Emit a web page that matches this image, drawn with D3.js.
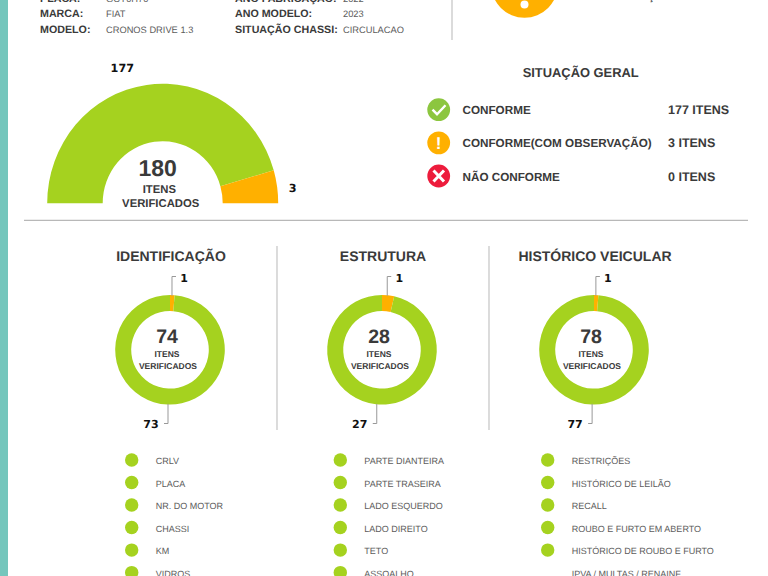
<!DOCTYPE html>
<html>
<head>
<meta charset="utf-8">
<script src="https://cdn.jsdelivr.net/npm/d3@7.9.0/dist/d3.min.js"></script>
<style>
  html, body { margin: 0; padding: 0; background: #fff; overflow: hidden; }
  text { font-family: "Liberation Sans", Arial, sans-serif; text-rendering: geometricPrecision; }
</style>
</head>
<body>
<svg id="chart" width="768" height="576" style="display:block"></svg>
<script>
const GREEN = '#a5d21f';
const ORANGE = '#ffb000';
const DARK = '#3a3a3a';
const GREY = '#5c5c5c';

// vehicle header, the first row is cut off by the top of the picture
const infoLeftLabels = ['PLACA:', 'MARCA:', 'MODELO:'];
const infoLeftValues = ['GCY0H70', 'FIAT', 'CRONOS DRIVE 1.3'];
const infoRightLabels = ['ANO FABRICAÇÃO:', 'ANO MODELO:', 'SITUAÇÃO CHASSI:'];
const infoRightValues = ['2022', '2023', 'CIRCULACAO'];

// main gauge: counts, and the slice sizes as they look in the picture (degrees)
const gaugeValues = [177, 3];
const gaugeSlices = [164, 16];
const gaugeTotal = 180;

// summary
const summaryLabels = ['CONFORME', 'CONFORME(COM OBSERVAÇÃO)', 'NÃO CONFORME'];
const summaryValues = ['177 ITENS', '3 ITENS', '0 ITENS'];
const summaryColors = ['#8cc63f', '#ffb000', '#ed1c3c'];
const summaryGlyphs = ['check', '!', 'x'];

// the three small donuts
const donutTitles = ['IDENTIFICAÇÃO', 'ESTRUTURA', 'HISTÓRICO VEICULAR'];
const donutObs = [1, 1, 1];
const donutOk = [73, 27, 77];
const donutTotals = [74, 28, 78];

// checklist under each donut
const listIdent = ['CRLV', 'PLACA', 'NR. DO MOTOR', 'CHASSI', 'KM', 'VIDROS'];
const listEstrutura = ['PARTE DIANTEIRA', 'PARTE TRASEIRA', 'LADO ESQUERDO', 'LADO DIREITO', 'TETO', 'ASSOALHO'];
const listHistorico = ['RESTRIÇÕES', 'HISTÓRICO DE LEILÃO', 'RECALL', 'ROUBO E FURTO EM ABERTO', 'HISTÓRICO DE ROUBO E FURTO', 'IPVA / MULTAS / RENAINF'];

const svg = d3.select('#chart');

function label(x, y, str, size, weight, color, anchor) {
  return svg.append('text')
    .attr('x', x).attr('y', y)
    .attr('font-size', size)
    .attr('font-weight', weight || 'normal')
    .attr('fill', color || DARK)
    .attr('text-anchor', anchor || 'start')
    .text(str);
}

function wideLabel(x, y, str, size, anchor) {
  return label(x, y, str, size, 'bold', '#111', anchor || 'middle').style('font-family', '"DejaVu Sans"');
}

function rule(x1, y1, x2, y2, color, width) {
  svg.append('line')
    .attr('x1', x1).attr('y1', y1).attr('x2', x2).attr('y2', y2)
    .attr('stroke', color || '#c4c4c4').attr('stroke-width', width || 1.2);
}

// teal strip on the left edge
svg.append('rect').attr('x', 0).attr('y', 0).attr('width', 8).attr('height', 576).attr('fill', '#74c6bc');

// header
const rowY = d3.scalePoint().domain([0, 1, 2]).range([1.5, 33]);
infoLeftLabels.forEach((d, i) => {
  label(40, rowY(i), d, 10.7, 'bold');
  label(106, rowY(i), infoLeftValues[i], 9.3, 'normal', GREY);
  label(235, rowY(i), infoRightLabels[i], 10.7, 'bold');
  label(343, rowY(i), infoRightValues[i], 9.3, 'normal', GREY);
});
rule(452, 0, 452, 40, '#cfcfcf', 1.5);

// warning icon at the top, cut off
svg.append('circle').attr('cx', 524.5).attr('cy', -15.7).attr('r', 33.4).attr('fill', ORANGE);
svg.append('circle').attr('cx', 524.5).attr('cy', 4.5).attr('r', 4).attr('fill', '#fff');
label(570, -0.5, 'COM OBSERVAÇÃO', 10.4, 'bold');

// gauge
const gaugeG = svg.append('g').attr('transform', 'translate(162.7,203.3) scale(1,1.035)');
const gaugePie = d3.pie().sort(null).value(d => d).startAngle(-Math.PI / 2).endAngle(Math.PI / 2);
const gaugeArc = d3.arc().innerRadius(60).outerRadius(115.5);
gaugeG.selectAll('path')
  .data(gaugePie(gaugeSlices))
  .join('path')
  .attr('d', gaugeArc)
  .attr('fill', (d, i) => i === 0 ? GREEN : ORANGE);
wideLabel(122.3, 72.3, gaugeValues[0], 11.2);
wideLabel(292.7, 192, gaugeValues[1], 11.2);
label(157.7, 176, gaugeTotal, 23, 'bold', DARK, 'middle');
label(159.3, 192.7, 'ITENS', 11.3, 'bold', DARK, 'middle');
label(160.7, 206.7, 'VERIFICADOS', 11.3, 'bold', DARK, 'middle');

// summary
label(580.7, 76.7, 'SITUAÇÃO GERAL', 12.9, 'bold', DARK, 'middle');
const summaryY = d3.scalePoint().domain(d3.range(3)).range([109.7, 176]);
summaryLabels.forEach((d, i) => {
  const y = summaryY(i);
  svg.append('circle').attr('cx', 438.7).attr('cy', y).attr('r', 11.4).attr('fill', summaryColors[i]);
  if (summaryGlyphs[i] === 'check') {
    svg.append('path')
      .attr('d', d3.line()([[432.5, y], [437, y + 4.5], [445.5, y - 4.5]]))
      .attr('fill', 'none').attr('stroke', '#fff').attr('stroke-width', 2.4);
  } else if (summaryGlyphs[i] === 'x') {
    svg.append('path')
      .attr('d', `M433.5,${y - 5.5}L444,${y + 5.5}M444,${y - 5.5}L433.5,${y + 5.5}`)
      .attr('stroke', '#fff').attr('stroke-width', 3);
  } else {
    label(438.7, y + 6, '!', 17, 'bold', '#fff', 'middle');
  }
  label(462.5, y + 4.5, d, 11.7, 'bold', DARK);
  label(668, y + 4.5, summaryValues[i], 12.5, 'bold', DARK);
});

rule(24, 220.3, 748, 220.3, '#b8b8b8', 1.3);
rule(277, 246, 277, 430);
rule(489, 246, 489, 430);

// donuts, the orange slice starts at twelve o'clock
const donutX = d3.scalePoint().domain(donutTitles).range([170, 594]);
const donutArc = d3.arc().innerRadius(38.8).outerRadius(54.8);
const donutPie = d3.pie().sort(null).value(d => d);
donutTitles.forEach((title, i) => {
  const cx = donutX(title);
  const cy = 349.8;
  const slices = donutPie([donutObs[i], donutOk[i]]);
  svg.append('g').attr('transform', `translate(${cx},${cy})`)
    .selectAll('path')
    .data(slices)
    .join('path')
    .attr('d', donutArc)
    .attr('fill', (d, k) => k === 0 ? ORANGE : GREEN);

  label(cx + 1, 261, title, 14, 'bold', DARK, 'middle');

  // leader lines leave from the middle of each slice
  const topX = cx + donutArc.centroid(slices[0])[0];
  const botX = cx + donutArc.centroid(slices[1])[0];
  svg.append('path').attr('fill', 'none').attr('stroke', '#999')
    .attr('d', `M${topX},${cy - 54}V276.5h4`);
  svg.append('path').attr('fill', 'none').attr('stroke', '#999')
    .attr('d', `M${botX},${cy + 54}V423.5h-4`);
  wideLabel(topX + 12, 282, donutObs[i], 11);
  wideLabel(botX - 17, 428, donutOk[i], 11);

  label(cx - 3, 342.7, donutTotals[i], 19.5, 'bold', DARK, 'middle');
  label(cx - 3, 357.3, 'ITENS', 8.5, 'bold', DARK, 'middle');
  label(cx - 2, 369.3, 'VERIFICADOS', 8.5, 'bold', DARK, 'middle');
});

// checklists, the last line of the third one wraps so its dot sits lower
const listY = d3.scaleLinear().domain([0, 5]).range([460, 572.6]);
const listDotX = [131.7, 340.3, 547.7];
const listTextX = [155.7, 364.3, 571.7];
[listIdent, listEstrutura, listHistorico].forEach((items, k) => {
  items.forEach((d, i) => {
    const warned = k === 2 && i === 5;
    svg.append('circle').attr('cx', listDotX[k]).attr('cy', listY(i) + (warned ? 10 : 0))
      .attr('r', 6.7).attr('fill', warned ? ORANGE : GREEN);
    label(listTextX[k], listY(i) + 4.3, d, 9, 'normal', GREY);
  });
});
</script>
</body>
</html>
